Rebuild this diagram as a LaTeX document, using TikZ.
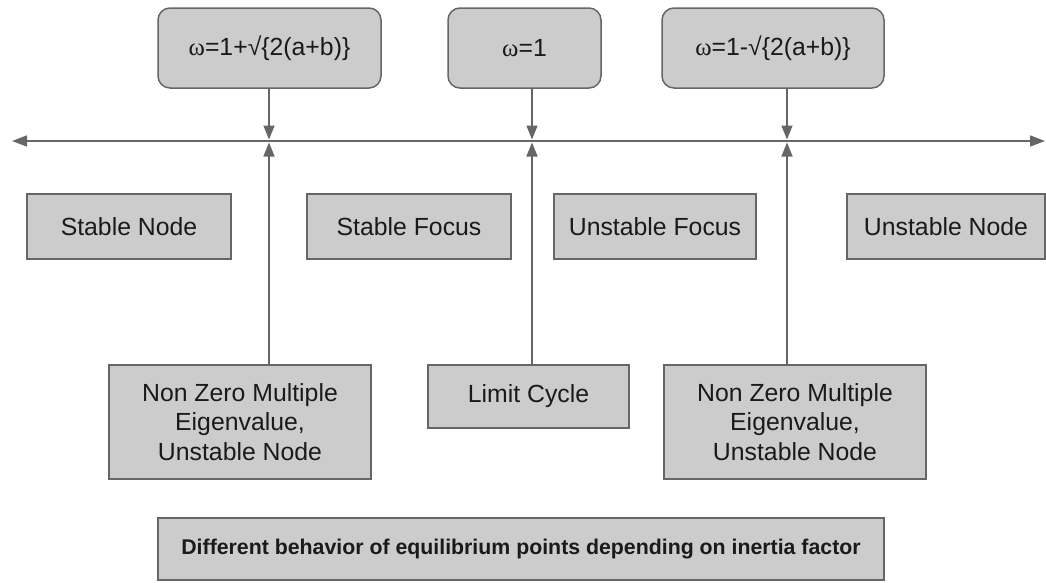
\documentclass[tikz,border=0pt]{standalone}
\usepackage{fontspec}
\setmainfont{Liberation Sans}
\newfontfamily\omegafont{Liberation Serif}
\usetikzlibrary{arrows.meta}
\definecolor{boxfill}{HTML}{CCCCCC}
\definecolor{boxline}{HTML}{666666}
\definecolor{txt}{HTML}{1A1A1A}
\begin{document}
\begin{tikzpicture}[x=1pt,y=-1pt,
  box/.style={draw=boxline,fill=boxfill,line width=1.5pt,inner sep=0pt,text=txt,
    font=\fontsize{24.8}{29.3}\selectfont,align=center},
  rbox/.style={box,rounded corners=12pt},
  conn/.style={draw=boxline,line width=1.5pt,-{Triangle[length=14pt,width=11pt]},shorten >=1.5pt},
  axis/.style={draw=boxline,line width=1.5pt,{Triangle[length=15pt,width=11pt]}-{Triangle[length=15pt,width=11pt]}}]
\useasboundingbox (0,0) rectangle (1046,582);
% top value boxes
\node[rbox,minimum width=223pt,minimum height=80pt] (t1) at (269.5,48) {{\omegafont ω}=1+√\{2(a+b)\}};
\node[rbox,minimum width=153pt,minimum height=80pt] (t2) at (524.5,48) {{\omegafont ω}=1};
\node[rbox,minimum width=222pt,minimum height=80pt] (t3) at (773,48) {{\omegafont ω}=1-√\{2(a+b)\}};
% axis
\coordinate (axL) at (12,141);
\coordinate (axR) at (1045,141);
\draw[axis] (axL) -- (axR);
\coordinate (p1) at (269,141);
\coordinate (p2) at (532,141);
\coordinate (p3) at (787,141);
% region boxes
\node[box,minimum width=204pt,minimum height=65pt] (sn) at (129,226.5) {Stable Node};
\node[box,minimum width=204pt,minimum height=65pt] (sf) at (409,226.5) {Stable Focus};
\node[box,minimum width=202pt,minimum height=65pt] (uf) at (655,226.5) {Unstable Focus};
\node[box,minimum width=198pt,minimum height=65pt] (un) at (946,226.5) {Unstable Node};
% bottom boxes
\node[box,minimum width=262pt,minimum height=114pt] (b1) at (240,422) {Non Zero Multiple\\Eigenvalue,\\Unstable Node};
\node[box,minimum width=201pt,minimum height=63pt] (b2) at (528.5,396.5) {Limit Cycle};
\node[box,minimum width=262pt,minimum height=114pt] (b3) at (795,422) {Non Zero Multiple\\Eigenvalue,\\Unstable Node};
% caption box
\node[box,minimum width=726pt,minimum height=62pt,font=\fontsize{21.3}{25}\selectfont\bfseries] (cap) at (521,549) {Different behavior of equilibrium points depending on inertia factor};
% connectors
\draw[conn] (t1.south -| p1) -- (p1);
\draw[conn] (t2.south -| p2) -- (p2);
\draw[conn] (t3.south -| p3) -- (p3);
\draw[conn] (b1.north -| p1) -- (p1);
\draw[conn] (b2.north -| p2) -- (p2);
\draw[conn] (b3.north -| p3) -- (p3);
\end{tikzpicture}
\end{document}
